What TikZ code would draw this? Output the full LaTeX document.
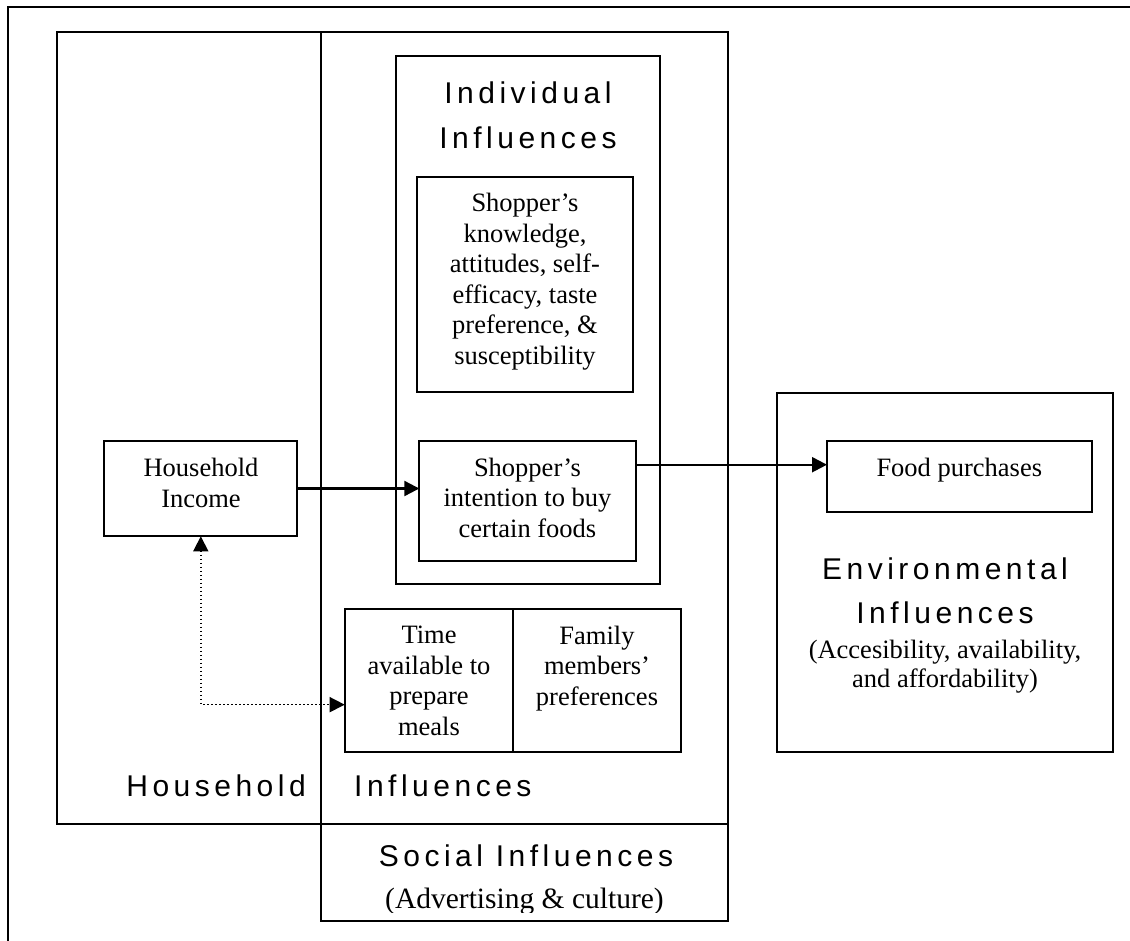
\documentclass[tikz,border=0pt]{standalone}
\usepackage{fontspec}
\setmainfont{Liberation Serif}
\newfontfamily\ttlfam[LetterSpace=15]{Liberation Sans}
\usetikzlibrary{arrows.meta,fit,calc}
\newcommand\sertext{\fontsize{26.5}{30.5}\selectfont}
\newcommand\ttltext{\ttlfam\fontsize{30}{45}\selectfont}
\begin{document}
\begin{tikzpicture}[x=1pt,y=-1pt,
  box/.style={draw, line width=2.2pt, inner sep=0pt, outer sep=0pt},
  txt/.style={inner sep=0pt, align=center, font=\sertext},
  ttl/.style={inner sep=0pt, align=center, font=\ttltext},
  arr/.style={line width=2.2pt, -{Triangle[length=15pt,width=15pt]}},
  dotarr/.style={line width=1.6pt, dash pattern=on 1.5pt off 2.5pt,
    {Triangle[length=15pt,width=15pt]}-{Triangle[length=15pt,width=15pt]}}]
\useasboundingbox (0,0) rectangle (1130,940);
% outer frame
\draw[line width=2.2pt] (8,945) -- (8,7) -- (1135,7);
% boxes
\node[box, fit={(57,32) (728,824)}] (household) {};
\node[box, fit={(321,32) (728,921)}] (social) {};
\node[box, fit={(395.7,56) (660,584)}] (individual) {};
\node[box, fit={(416.7,176.7) (633,392)}] (knowledge) {};
\node[box, fit={(419.3,440.7) (636,560.7)}] (intention) {};
\node[box, fit={(344.7,609) (513,752.3)}] (time) {};
\node[box, fit={(513,609) (681,752.3)}] (family) {};
\node[box, fit={(104.3,440.7) (297.3,536.3)}] (hh) {};
\node[box, fit={(776.7,392.7) (1113,752.3)}] (env) {};
\node[box, fit={(827,440.7) (1092,512)}] (food) {};
% texts (anchor base = baseline of the last line)
\node[ttl, anchor=base] (indT) at (528,148.3) {Individual\\Influences};
\node[txt, anchor=base] (knowT) at (525,364) {Shopper’s\\knowledge,\\attitudes, self-\\efficacy, taste\\preference, \&\\susceptibility};
\node[txt, anchor=base] (intT) at (527.5,537.3) {Shopper’s\\intention to buy\\certain foods};
\node[txt, anchor=base] (timeT) at (429,735) {Time\\available to\\prepare\\meals};
\node[txt, anchor=base] (famT) at (597,705) {Family\\members’\\preferences};
\node[txt, anchor=base, font=\fontsize{26.5}{31.3}\selectfont] (hhT) at (201,507.3) {Household\\Income};
\node[txt, anchor=base] (foodT) at (959.3,476.7) {Food purchases};
\node[ttl, anchor=base, font=\ttlfam\fontsize{30}{44.3}\selectfont] (envT) at (945,623.3) {Environmental\\Influences};
\node[txt, anchor=base, font=\fontsize{26.5}{29}\selectfont] (envS) at (945,687.3) {(Accesibility, availability,\\and affordability)};
\node[ttl, anchor=base east] (hhL) at (306,796.7) {Household};
\node[ttl, anchor=base west] (inflL) at (354,796.7) {Influences};
\node[ttl, anchor=base] (socT) at (526,866) {Social Influences};
\begin{scope}
\clip (322,880) rectangle (727,912.5);
\node[txt, anchor=base, font=\fontsize{29.5}{34}\selectfont] (socS) at (524.5,908.3) {(Advertising \& culture)};
\end{scope}
% connectors
\draw[arr] (hh.east) -- (hh.east -| intention.west);
\draw[arr] ([yshift=36pt]intention.east) -- ([yshift=36pt]intention.east -| food.west);
\draw[dotarr] (hh.south) |- ([yshift=-24pt]time.west);
\end{tikzpicture}
\end{document}
